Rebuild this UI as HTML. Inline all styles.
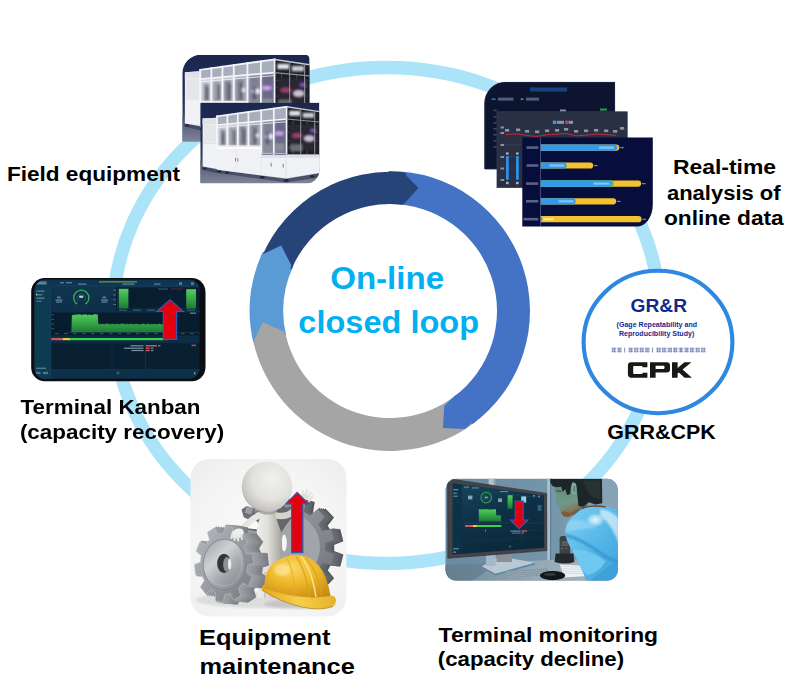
<!DOCTYPE html>
<html><head><meta charset="utf-8"><title>On-line closed loop</title>
<style>
html,body{margin:0;padding:0;background:#fff;}
body{width:800px;height:684px;overflow:hidden;font-family:"Liberation Sans",sans-serif;}
svg{display:block}
text{font-family:"Liberation Sans",sans-serif;font-weight:bold}
.lbl{fill:#000}
</style></head><body>
<svg width="800" height="684" viewBox="0 0 800 684">
<rect width="800" height="684" fill="#ffffff"/>
<defs>
<filter id="soft" x="-5%" y="-5%" width="110%" height="110%"><feGaussianBlur stdDeviation="0.45"/></filter>
<filter id="soft2" x="-5%" y="-5%" width="110%" height="110%"><feGaussianBlur stdDeviation="0.8"/></filter>
</defs>
<ellipse cx="386.4" cy="315.4" rx="273.4" ry="247.9" fill="none" stroke="#ABE4F9" stroke-width="13.3"/>
<g id="ring">
<path d="M476.19,421.32 A140,140 0 0 1 252.57,337.71 L284.97,331.42 A107,107 0 0 0 455.88,395.32 Z" fill="#A5A5A5"/>
<path d="M388.78,171.01 A140,140 0 0 1 472.68,423.97 L453.19,397.34 A107,107 0 0 0 389.07,204.00 Z" fill="#4472C4"/>
<path d="M253.30,342.56 A140.3,140.3 0 0 1 262.85,251.71 L293.30,265.91 A106.7,106.7 0 0 0 286.03,335.00 Z" fill="#5B9BD5"/>
<path d="M261.87,256.61 A139.2,139.2 0 0 1 406.00,172.72 L402.30,204.71 A107,107 0 0 0 291.51,269.19 Z" fill="#264478"/>
<path d="M458.91,393.12 L453,397.6 L444.2,406 L443,428 L465,429 L472.6,422.4 L479.86,418.09 Z" fill="#4472C4"/>
<path d="M255.62,349.53 L253.9,340.9 L262.7,322.2 L283.9,331.4 L286.95,340.55 Z" fill="#A5A5A5"/>
<path d="M258.63,263.19 L261.6,254.8 L281.2,245.6 L291.2,265.1 L289.26,274.34 Z" fill="#5B9BD5"/>
<path d="M394.85,172.08 L403.7,173 L418.5,188.1 L403.5,204.2 L393.74,203.87 Z" fill="#264478"/>
</g>
<g fill="#00B0F0" font-size="31.2"><text transform="translate(330.14,289.0) scale(1.061,1)">On-line</text><text transform="translate(298.36,333.3) scale(1.0421,1)">closed loop</text></g>
<!-- field -->
<defs><linearGradient id="fbg" x1="0" y1="0" x2="0" y2="1"><stop offset="0" stop-color="#1c2750"/><stop offset="0.45" stop-color="#202c55"/><stop offset="0.75" stop-color="#3e4665"/><stop offset="1" stop-color="#5b627d"/></linearGradient><linearGradient id="ffloor" x1="0" y1="0" x2="0" y2="1"><stop offset="0" stop-color="#4a5270"/><stop offset="1" stop-color="#7f8598"/></linearGradient><linearGradient id="fglass" x1="0" y1="0" x2="1" y2="0"><stop offset="0" stop-color="#d5d8e0"/><stop offset="0.55" stop-color="#b9bccb"/><stop offset="1" stop-color="#77749a"/></linearGradient><clipPath id="fclip1"><path d="M17.5,0 H115.2 A4,4 0 0 1 119.2,4 V81 H0 V17.5 A17.5,17.5 0 0 1 17.5,0 Z"/></clipPath><clipPath id="fclip2"><path d="M0,0 H119.2 V67.5 A13.5,13.5 0 0 1 105.7,81 H0 Z"/></clipPath><g id="machine"><rect x="0" y="0" width="119.2" height="81" fill="url(#fbg)"/><path d="M0,58 L119.2,66 V81 H0 Z" fill="url(#ffloor)"/><path d="M2,64 L17,67.5 L86,76.5 L119.2,71 V75 L86,80 L14,70 L2,67 Z" fill="#2b3147" opacity="0.55"/><path d="M2.4,16.2 L16.8,15.4 V66.5 L2.4,64 Z" fill="#f1f2f5"/><path d="M2.4,16.2 L16.8,15.4 V21.5 L2.4,22 Z" fill="#dfe2e8"/><path d="M3.4,22.5 L15.8,22 V40 L3.4,40 Z" fill="#e4e6ea"/><path d="M2.4,41 H16.8" stroke="#c9ccd4" stroke-width="0.5"/><path d="M16.8,14 L86.4,4.3 V16.6 L16.8,22.6 Z" fill="#a9aebb"/><path d="M16.8,22.6 L86.4,16.6 V52 H61 V44.6 H16.8 Z" fill="url(#fglass)"/><g filter="url(#soft2)"><rect x="20" y="27" width="5" height="16" fill="#8e929c"/><rect x="29" y="25" width="7" height="18" fill="#9b9faa"/><rect x="39.5" y="24" width="6" height="19" fill="#80838f"/><rect x="50" y="22" width="8" height="21" fill="#8a8c9a"/><rect x="63" y="20" width="9" height="30" fill="#7f7f96"/><rect x="75" y="19" width="10" height="31" fill="#6a6888"/><ellipse cx="69" cy="34" rx="4" ry="2.6" fill="#f3e8f6"/><ellipse cx="79" cy="31" rx="4.5" ry="2.2" fill="#c9a0e8"/><ellipse cx="57" cy="33" rx="2.5" ry="2" fill="#e8e0f0"/><rect x="64" y="41" width="20" height="8" fill="#8b8d96"/><g fill="#d9762e" opacity="0.7"><rect x="30" y="41" width="2" height="1.6"/><rect x="43" y="41" width="2" height="1.6"/><rect x="55" y="41" width="2" height="1.6"/></g><g fill="#4b4e5a" opacity="0.75"><rect x="22" y="30" width="2.4" height="12"/><rect x="33" y="28" width="2.2" height="14"/><rect x="43" y="27" width="2.4" height="15"/><rect x="53.5" y="26" width="2.4" height="16"/><rect x="66" y="30" width="3" height="12"/></g></g><path d="M86.4,4.3 L119.2,9.2 V53 H86.4 Z" fill="#1d1d26"/><g stroke="#70727c" stroke-width="0.7" opacity="0.8"><path d="M88,24 H118 M88,30 H118 M88,38.5 H118 M88,45 H118 M93,18 V52 M107,19 V52"/></g><g filter="url(#soft2)"><rect x="89" y="22" width="28" height="26" fill="#2a2733"/><ellipse cx="97" cy="33" rx="5" ry="2.5" fill="#b04a7a" opacity="0.8"/><ellipse cx="109" cy="36" rx="5" ry="3" fill="#e9dff3" opacity="0.85"/><ellipse cx="113" cy="28" rx="3" ry="2" fill="#8c5fd0" opacity="0.8"/><rect x="90" y="42" width="12" height="7" fill="#6c6d76"/><rect x="89" y="8.4" width="11" height="5" fill="#eceef2" opacity="0.95"/><rect x="102.5" y="10.4" width="11.5" height="5" fill="#dfe1e6" opacity="0.9"/></g><g stroke="#f4f5f8" stroke-linecap="square" fill="none"><path d="M16.8,14 L86.4,4.3" stroke-width="1.7"/><path d="M16.8,22.6 L86.4,16.6" stroke-width="1.6"/><path d="M16.8,14.00 V44.6" stroke-width="1.7"/><path d="M27.2,12.55 V44.6" stroke-width="1.7"/><path d="M37.6,11.10 V44.6" stroke-width="1.7"/><path d="M48.2,9.62 V44.6" stroke-width="1.7"/><path d="M61,7.84 V52" stroke-width="1.7"/><path d="M73.6,6.08 V52" stroke-width="1.7"/><path d="M86.4,4.3 V53" stroke-width="1.6"/><path d="M16.8,25.2 L86.4,19.4" stroke-width="0.9" opacity="0.85"/><path d="M16.8,43.8 H61" stroke-width="1.2"/><path d="M61,51.3 H86.4" stroke-width="1.2" stroke="#b6bac4"/></g><g stroke="#8e9099" fill="none"><path d="M86.4,4.3 L119.2,9.2" stroke-width="1.4" stroke="#c8cad0"/><path d="M86.4,16.6 L119.2,19.6" stroke-width="1.1"/><path d="M100.5,6.4 V53 M114.5,8.5 V53" stroke-width="1.0"/><path d="M86.4,52.4 H119.2" stroke-width="1.4" stroke="#9a9da6"/></g><path d="M16.8,44.6 H61 V52.6 H119.2 V70.5 L86,76 L16.8,67.4 Z" fill="#f0f1f4"/><path d="M61,52.6 H119.2 V55.5 H61 Z" fill="#dfe1e7"/><path d="M16.8,44.6 H61 V46.6 H16.8 Z" fill="#fafbfc"/><path d="M86,56 V76" stroke="#d4d7de" stroke-width="0.6"/><path d="M36,46 V70 M61,52 V73" stroke="#d9dbe2" stroke-width="0.5"/><g fill="#6d7079"><rect x="35" y="55.5" width="0.8" height="3.4"/><rect x="37.2" y="55.8" width="0.8" height="3.4"/><rect x="70.5" y="60.5" width="0.9" height="3.6"/><rect x="82.5" y="61.5" width="0.9" height="3.6"/></g><g fill="#23252e"><ellipse cx="4.5" cy="66" rx="2" ry="1"/><ellipse cx="19" cy="69.3" rx="2.4" ry="1.1"/><ellipse cx="27" cy="70.3" rx="2" ry="1"/><ellipse cx="62" cy="74.8" rx="2.6" ry="1.2"/><ellipse cx="86" cy="78" rx="2.8" ry="1.4"/><ellipse cx="112" cy="74" rx="2.4" ry="1.2"/></g></g></defs>
<g transform="translate(182.3,54.8) scale(1.068,1.072)" clip-path="url(#fclip1)"><use href="#machine"/></g>
<g transform="translate(200.2,102.4)" clip-path="url(#fclip2)"><use href="#machine"/></g>

<!-- charts -->
<path d="M505.5,82 H615 V169 H484.5 V103 A21,21 0 0 1 505.5,82 Z" fill="#0c1430"/>
<path d="M505.5,82.4 H614.6 V169 H484.9 V103 A20.6,20.6 0 0 1 505.5,82.4 Z" fill="none" stroke="#1b2748" stroke-width="0.8"/>
<g filter="url(#soft)"><rect x="530" y="87.4" width="37" height="4.2" fill="#1f6fc4" opacity="0.5"/><rect x="491.5" y="98.4" width="4.2" height="1.4" rx="0.7" fill="#2f9bf0"/><rect x="498" y="97.6" width="15.5" height="3" fill="#9aa6c0" opacity="0.5"/><rect x="520.5" y="98.5" width="3.2" height="1.2" rx="0.6" fill="#57c24a"/><rect x="526" y="97.6" width="13" height="3" fill="#9aa6c0" opacity="0.5"/><rect x="493.5" y="109.5" width="3.2" height="1.6" fill="#6e7a98" opacity="0.5"/><rect x="493.5" y="116" width="3.2" height="1.6" fill="#6e7a98" opacity="0.5"/><rect x="493.5" y="122" width="3.2" height="1.6" fill="#6e7a98" opacity="0.5"/><rect x="493.5" y="128" width="3.2" height="1.6" fill="#6e7a98" opacity="0.5"/><rect x="493.5" y="134" width="3.2" height="1.6" fill="#6e7a98" opacity="0.5"/><rect x="493.5" y="140" width="3.2" height="1.6" fill="#6e7a98" opacity="0.5"/><rect x="493.5" y="146" width="3.2" height="1.6" fill="#6e7a98" opacity="0.5"/><rect x="600" y="108.5" width="7" height="2.2" fill="#2fae5a" opacity="0.8"/><rect x="560" y="109.5" width="6" height="2.4" fill="#b8c0d4" opacity="0.7"/></g>
<rect x="497" y="111.8" width="130.2" height="75.8" fill="#293044"/>
<rect x="497" y="111.8" width="130.2" height="75.8" fill="none" stroke="#343c52" stroke-width="0.8"/>
<g filter="url(#soft)"><rect x="552.8" y="120.6" width="3.4" height="3.4" fill="#2f9bf0"/><rect x="557" y="120.8" width="7" height="3" fill="#c5cbd9" opacity="0.65"/><rect x="565.5" y="120.6" width="2.2" height="3.4" fill="#e34a4a"/><rect x="568.5" y="120.8" width="4.5" height="3" fill="#c5cbd9" opacity="0.65"/><rect x="500.5" y="126.5" width="3.6" height="2" fill="#aab2c6" opacity="0.75"/><rect x="500.5" y="132" width="3.6" height="2" fill="#aab2c6" opacity="0.75"/><rect x="500.5" y="144" width="3.6" height="2" fill="#aab2c6" opacity="0.75"/><rect x="500.5" y="156" width="3.6" height="2" fill="#aab2c6" opacity="0.75"/><rect x="500.5" y="167.5" width="3.6" height="2" fill="#aab2c6" opacity="0.75"/><rect x="500.5" y="179" width="3.6" height="2" fill="#aab2c6" opacity="0.75"/><rect x="505" y="129" width="4.2" height="2.6" fill="#d4d9e6" opacity="0.6"/><rect x="516" y="128.5" width="4.2" height="2.6" fill="#d4d9e6" opacity="0.6"/><rect x="525" y="130" width="4.2" height="2.6" fill="#d4d9e6" opacity="0.6"/><rect x="535" y="130.5" width="4.2" height="2.6" fill="#d4d9e6" opacity="0.6"/><rect x="545" y="129.5" width="4.2" height="2.6" fill="#d4d9e6" opacity="0.6"/><rect x="555" y="129" width="4.2" height="2.6" fill="#d4d9e6" opacity="0.6"/><rect x="564" y="128" width="4.2" height="2.6" fill="#d4d9e6" opacity="0.6"/><rect x="574" y="130" width="4.2" height="2.6" fill="#d4d9e6" opacity="0.6"/><rect x="584" y="129.5" width="4.2" height="2.6" fill="#d4d9e6" opacity="0.6"/><rect x="594" y="129" width="4.2" height="2.6" fill="#d4d9e6" opacity="0.6"/><rect x="604" y="129.5" width="4.2" height="2.6" fill="#d4d9e6" opacity="0.6"/><rect x="613" y="130" width="4.2" height="2.6" fill="#d4d9e6" opacity="0.6"/><rect x="620" y="127" width="4.2" height="2.6" fill="#d4d9e6" opacity="0.6"/><path d="M506,134.6 L517,133.8 L527,135.6 L537,136.4 L547,134.8 L557,134.2 L566,133.4 L576,135.8 L586,135.2 L596,134 L606,134.6 L616,135.4" fill="none" stroke="#d42a35" stroke-width="0.9"/><path d="M505,144.8 H530 M505,156.5 H522 M505,168 H522" stroke="#4a5269" stroke-width="0.4"/></g>
<rect x="506" y="156" width="2.8" height="24" rx="1.2" fill="#2f8fe6"/><rect x="516" y="156" width="2.8" height="24" rx="1.2" fill="#2f8fe6"/><g fill="#cfd5e2" opacity="0.8" filter="url(#soft)"><rect x="506" y="152.4" width="2.6" height="2.2"/><rect x="516" y="152.4" width="2.6" height="2.2"/><rect x="506" y="181.8" width="2.6" height="2.4"/><rect x="516" y="181.8" width="2.6" height="2.4"/></g>
<path d="M522.3,137.6 H652.8 V204.6 A16,22 0 0 1 636.8,226.6 H522.3 Z" fill="#070e3b"/>
<path d="M540.4,137.6 V226.6" stroke="#7f89ad" stroke-width="0.7" opacity="0.8"/>
<path d="M540.8,144.50 H616.30 A3.1,3.1 0 0 1 616.30,150.70 H540.8 Z" fill="#f6c12f"/><path d="M540.8,144.50 H614.20 A3.1,3.1 0 0 1 614.20,150.70 H540.8 Z" fill="#2e9af2"/><rect x="620.20" y="147.10" width="3.6" height="1.1" fill="#d8b86a" opacity="0.75"/><path d="M540.8,162.40 H590.10 A3.1,3.1 0 0 1 590.10,168.60 H540.8 Z" fill="#f6c12f"/><path d="M540.8,162.40 H563.50 A3.1,3.1 0 0 1 563.50,168.60 H540.8 Z" fill="#2e9af2"/><rect x="594.00" y="165.00" width="3.6" height="1.1" fill="#d8b86a" opacity="0.75"/><path d="M540.8,180.50 H638.10 A3.1,3.1 0 0 1 638.10,186.70 H540.8 Z" fill="#f6c12f"/><path d="M540.8,180.50 H610.90 A3.1,3.1 0 0 1 610.90,186.70 H540.8 Z" fill="#3fd06f"/><path d="M540.8,180.50 H608.50 A3.1,3.1 0 0 1 608.50,186.70 H540.8 Z" fill="#2e9af2"/><rect x="642.00" y="183.10" width="3.6" height="1.1" fill="#d8b86a" opacity="0.75"/><path d="M540.8,198.20 H613.10 A3.1,3.1 0 0 1 613.10,204.40 H540.8 Z" fill="#f6c12f"/><path d="M540.8,198.20 H572.50 A3.1,3.1 0 0 1 572.50,204.40 H540.8 Z" fill="#2e9af2"/><rect x="617.00" y="200.80" width="3.6" height="1.1" fill="#d8b86a" opacity="0.75"/><path d="M540.8,216.10 H638.50 A3.1,3.1 0 0 1 638.50,222.30 H540.8 Z" fill="#f6c12f"/><path d="M540.8,216.10 H539.30 A3.1,3.1 0 0 1 539.30,222.30 H540.8 Z" fill="#2e9af2"/><rect x="642.40" y="218.70" width="3.6" height="1.1" fill="#d8b86a" opacity="0.75"/>
<g filter="url(#soft)" opacity="0.85"><rect x="526.5" y="146.30" width="11.8" height="2.6" fill="#aab3d0" opacity="0.6"/><rect x="526.5" y="164.20" width="11.8" height="2.6" fill="#aab3d0" opacity="0.6"/><rect x="526" y="182.30" width="12.3" height="2.6" fill="#aab3d0" opacity="0.6"/><rect x="526" y="200.00" width="12.3" height="2.6" fill="#aab3d0" opacity="0.6"/><rect x="523.5" y="217.90" width="14.8" height="2.6" fill="#aab3d0" opacity="0.6"/><rect x="599" y="146.5" width="15" height="2.2" fill="#d9ecff" opacity="0.6"/><rect x="549.5" y="164.4" width="15" height="2.2" fill="#d9ecff" opacity="0.6"/><rect x="593.5" y="182.5" width="16" height="2.2" fill="#d9ecff" opacity="0.6"/><rect x="558.5" y="200.2" width="15" height="2.2" fill="#d9ecff" opacity="0.6"/><rect x="543.5" y="218.1" width="10" height="2.2" fill="#fff3c4" opacity="0.8"/></g>

<!-- kanban -->
<rect x="31.2" y="278" width="174.2" height="103.2" rx="13.5" ry="13.5" fill="#0b0d10"/>
<defs><clipPath id="kclip"><rect x="34.4" y="279.8" width="165.6" height="99" rx="10.5" ry="11.5"/></clipPath><linearGradient id="kbg" x1="0" y1="0" x2="0" y2="1"><stop offset="0" stop-color="#103650"/><stop offset="0.55" stop-color="#0c2b44"/><stop offset="1" stop-color="#0d3049"/></linearGradient><linearGradient id="kgreen" x1="0" y1="0" x2="0" y2="1"><stop offset="0" stop-color="#4fd05a"/><stop offset="1" stop-color="#1d7a35"/></linearGradient></defs>
<g clip-path="url(#kclip)"><rect x="31" y="278" width="176" height="104" fill="url(#kbg)"/><rect x="31" y="278" width="19.5" height="104" fill="#0e3a52"/><path d="M50.5,280 V380" stroke="#1a4763" stroke-width="0.5"/><rect x="31" y="278" width="176" height="7.6" fill="#0e3550"/><path d="M50.5,285.8 H206" stroke="#1d4e6b" stroke-width="0.5"/><g filter="url(#soft)"><rect x="36" y="281.4" width="10.5" height="3.2" fill="#8fb4c9" opacity="0.6"/><g fill="#9ebbd0" opacity="0.5"><rect x="60" y="282" width="4" height="1.4"/><rect x="66" y="282" width="6" height="1.4"/><rect x="78" y="283.4" width="8.5" height="1.4"/><rect x="122.5" y="283.4" width="12" height="1.5"/><rect x="154" y="283.4" width="6.5" height="1.4"/><rect x="179" y="282.2" width="3" height="2.8"/><rect x="191" y="282.2" width="3" height="2.8"/></g><rect x="99" y="281.1" width="38" height="1.5" fill="#7fa23a" opacity="0.75"/><g fill="#8fb4c9" opacity="0.5"><rect x="36.5" y="290.4" width="8" height="1.5"/><rect x="36.5" y="294" width="6" height="1.5"/><rect x="36.5" y="297.4" width="8" height="1.5"/><rect x="36.5" y="300.6" width="5" height="1.3"/><rect x="36" y="367.6" width="10" height="1.4"/><rect x="35.5" y="371.8" width="5" height="2.2"/><rect x="43" y="371.8" width="5" height="2.2"/></g><rect x="36" y="293.6" width="1.2" height="1.8" fill="#9bd13a"/><g fill="#a9c6d8" opacity="0.55"><rect x="57" y="296.6" width="3.6" height="1.6"/><rect x="55.5" y="299.4" width="7" height="1.3"/><rect x="56" y="301.4" width="6" height="1.2"/><rect x="102.4" y="296.6" width="3.6" height="1.6"/><rect x="101" y="299.4" width="7" height="1.3"/><rect x="101.5" y="301.4" width="6" height="1.2"/></g></g><path d="M76.2,303.4 A7.6,7.6 0 1 1 86.4,303.4" fill="none" stroke="#35b25a" stroke-width="1.3" stroke-linecap="round"/><path d="M78.0,300.8 A4.2,4.2 0 1 1 84.6,300.8" fill="none" stroke="#2a6a5e" stroke-width="0.7"/><rect x="79.2" y="295.6" width="4" height="2.3" fill="#d5e6ee" opacity="0.85" filter="url(#soft)"/><g fill="#b07f3a"><circle cx="76.6" cy="303.6" r="0.8"/><circle cx="86" cy="303.6" r="0.8"/></g><rect x="116" y="287.4" width="88" height="23" fill="#071e2e" opacity="0.95"/><path d="M117.5,288.4 V308.8 H204" fill="none" stroke="#2b5470" stroke-width="0.4"/><g fill="#6f93aa" opacity="0.6" filter="url(#soft)"><rect x="113" y="289.6" width="3" height="1"/><rect x="113" y="294.4" width="3" height="1"/><rect x="113" y="299.2" width="3" height="1"/><rect x="113" y="304" width="3" height="1"/><rect x="119" y="309.6" width="8" height="1"/><rect x="133" y="309.6" width="8" height="1"/><rect x="147" y="309.6" width="8" height="1"/><rect x="187" y="309.6" width="8" height="1"/><rect x="158" y="288.6" width="10" height="0.9"/></g><path d="M171,288.9 H183" stroke="#b4483f" stroke-width="0.5" opacity="0.8"/><rect x="118.8" y="288.8" width="9.6" height="19.6" fill="url(#kgreen)"/><rect x="186.2" y="289.2" width="9.8" height="19.4" fill="url(#kgreen)"/><rect x="51.5" y="312.6" width="153" height="22.6" fill="#071c2c" opacity="0.95"/><path d="M66,332.4 H203" stroke="#2b5470" stroke-width="0.4"/><g fill="#6f93aa" opacity="0.55" filter="url(#soft)"><rect x="51.5" y="314.4" width="2.5" height="0.9"/><rect x="51.5" y="319" width="2.5" height="0.9"/><rect x="51.5" y="323.6" width="2.5" height="0.9"/><rect x="51.5" y="328.2" width="2.5" height="0.9"/><rect x="55" y="333.2" width="3.5" height="0.9"/><rect x="64" y="333.2" width="3.5" height="0.9"/><rect x="73" y="333.2" width="3.5" height="0.9"/><rect x="82" y="333.2" width="3.5" height="0.9"/><rect x="91" y="333.2" width="3.5" height="0.9"/><rect x="100" y="333.2" width="3.5" height="0.9"/><rect x="109" y="333.2" width="3.5" height="0.9"/><rect x="118" y="333.2" width="3.5" height="0.9"/><rect x="127" y="333.2" width="3.5" height="0.9"/><rect x="136" y="333.2" width="3.5" height="0.9"/><rect x="145" y="333.2" width="3.5" height="0.9"/><rect x="154" y="333.2" width="3.5" height="0.9"/><rect x="163" y="333.2" width="3.5" height="0.9"/><rect x="172" y="333.2" width="3.5" height="0.9"/><rect x="181" y="333.2" width="3.5" height="0.9"/><rect x="190" y="333.2" width="3.5" height="0.9"/><rect x="199" y="333.2" width="3.5" height="0.9"/><rect x="190" y="312.6" width="6" height="1.2" fill="#c8dbe6"/></g><path d="M70.80,332.20 L70.80,331.66 L71.35,331.81 L71.90,314.98 L72.45,315.18 L73.00,314.91 L73.55,315.15 L74.10,313.99 L74.65,314.56 L75.20,315.18 L75.75,314.79 L76.30,315.12 L76.85,314.10 L77.40,314.56 L77.95,314.27 L78.50,314.66 L79.05,314.70 L79.60,313.97 L80.15,314.23 L80.70,314.31 L81.25,315.14 L81.80,314.95 L82.35,314.16 L82.90,314.99 L83.45,314.13 L84.00,314.75 L84.55,314.11 L85.10,313.95 L85.65,315.08 L86.20,314.22 L86.75,314.23 L87.30,315.23 L87.85,315.08 L88.40,314.33 L88.95,315.20 L89.50,314.65 L90.05,314.83 L90.60,314.22 L91.15,315.17 L91.70,314.85 L92.25,315.21 L92.80,315.11 L93.35,314.34 L93.90,314.42 L94.45,314.17 L95.00,314.14 L95.55,314.03 L96.10,314.34 L96.65,314.73 L97.20,313.95 L97.75,314.83 L98.30,323.79 L98.85,323.75 L99.40,324.41 L99.95,323.97 L100.50,323.76 L101.05,323.98 L101.60,324.27 L102.15,323.42 L102.70,324.62 L103.25,323.38 L103.80,324.32 L104.35,324.45 L104.90,323.37 L105.45,324.37 L106.00,323.83 L106.55,324.10 L107.10,323.36 L107.65,323.41 L108.20,323.59 L108.75,324.59 L109.30,323.61 L109.85,324.33 L110.40,324.56 L110.95,324.57 L111.50,323.80 L112.05,323.81 L112.60,324.03 L113.15,324.36 L113.70,323.49 L114.25,324.32 L114.80,324.39 L115.35,324.47 L115.90,323.40 L116.45,324.58 L117.00,323.47 L117.55,323.79 L118.10,324.14 L118.65,324.54 L119.20,323.79 L119.75,324.55 L120.30,324.06 L120.85,323.76 L121.40,323.76 L121.95,323.58 L122.50,323.45 L123.05,323.54 L123.60,324.25 L124.15,324.65 L124.70,323.56 L125.25,323.41 L125.80,324.63 L126.35,324.04 L126.90,323.88 L127.45,323.66 L128.00,324.12 L128.55,324.42 L129.10,323.94 L129.65,323.90 L130.20,323.42 L130.75,324.54 L131.30,323.39 L131.85,323.99 L132.40,324.44 L132.95,323.52 L133.50,324.30 L134.05,324.58 L134.60,324.17 L135.15,324.37 L135.70,323.49 L136.25,323.91 L136.80,323.54 L137.35,324.45 L137.90,323.73 L138.45,323.94 L139.00,324.65 L139.55,324.46 L140.10,324.62 L140.65,323.94 L141.20,323.98 L141.75,324.30 L142.30,323.97 L142.85,323.73 L143.40,323.87 L143.95,323.54 L144.50,323.84 L145.05,324.63 L145.60,324.60 L146.15,324.17 L146.70,324.00 L147.25,323.79 L147.80,323.47 L148.35,323.70 L148.90,324.37 L149.45,324.48 L150.00,323.82 L150.55,324.37 L151.10,324.36 L151.65,324.25 L152.20,324.21 L152.75,324.34 L153.30,323.82 L153.85,324.27 L154.40,323.72 L154.95,323.98 L155.50,324.35 L156.05,324.25 L156.60,323.73 L157.15,324.58 L157.70,324.19 L158.25,324.10 L158.80,323.37 L159.35,324.06 L159.90,323.68 L160.45,324.22 L161.00,323.95 L161.55,324.41 L162.10,324.19 L162.65,324.39 L163.20,323.80 L163.75,324.19 L164.30,324.31 L164.85,324.43 L165.20,332.20 Z" fill="url(#kgreen)"/><rect x="51.2" y="338.0" width="11.4" height="2.2" fill="#d9545a"/><rect x="62.6" y="338.0" width="7.6" height="2.2" fill="#e8d22e"/><rect x="70.2" y="338.0" width="94" height="2.2" fill="#3dd04a"/><rect x="164.2" y="338.0" width="4" height="2.2" fill="#2e7f8f"/><rect x="51.5" y="343.4" width="153" height="26" fill="#081f30" opacity="0.9"/><path d="M112,344 V369 M145.5,344 V369" stroke="#1b4560" stroke-width="0.4"/><g filter="url(#soft)"><g fill="#a9c6d8" opacity="0.7"><rect x="130.5" y="345.2" width="13" height="1.2"/><rect x="124" y="347.6" width="19.5" height="1.2"/><rect x="131.5" y="349.9" width="12" height="1.2"/><rect x="158" y="345.2" width="2.4" height="1.2"/><rect x="151" y="347.6" width="2.4" height="1.2"/><rect x="151" y="349.9" width="2.4" height="1.2"/></g><rect x="145.8" y="345" width="11.2" height="1.5" fill="#d9545a"/><rect x="145.8" y="347.5" width="4" height="1.4" fill="#d9545a"/><rect x="145.8" y="349.8" width="4" height="1.4" fill="#d9545a"/><rect x="191.5" y="344.6" width="4.4" height="1.6" fill="#c95a7a" opacity="0.8"/><circle cx="118" cy="373" r="1.2" fill="none" stroke="#7fa5ba" stroke-width="0.4"/><rect x="194" y="372" width="1.4" height="2.4" fill="#a9c6d8" opacity="0.7"/></g><path d="M31,369.8 H206" stroke="#18445f" stroke-width="0.5"/></g>
<rect x="199.6" y="292" width="5.6" height="75" fill="#0b0d10"/><path d="M170.00,299.80 L183.30,311.40 L176.60,311.40 L176.60,339.40 L163.40,339.40 L163.40,311.40 L156.70,311.40 Z" fill="#e3000f" stroke="#3059b4" stroke-width="1.2" stroke-linejoin="miter"/>

<!-- maint -->
<defs>
<clipPath id="mclip"><rect x="190.4" y="459" width="156" height="157.4" rx="19" ry="19"/></clipPath>
<radialGradient id="mbg" cx="0.5" cy="0.55" r="0.7"><stop offset="0" stop-color="#fbfbfb"/><stop offset="0.7" stop-color="#f4f4f4"/><stop offset="1" stop-color="#ededed"/></radialGradient>
<radialGradient id="mhead" cx="0.6" cy="0.36" r="0.72"><stop offset="0" stop-color="#f1f1ef"/><stop offset="0.55" stop-color="#e2e1de"/><stop offset="0.85" stop-color="#c6c5c1"/><stop offset="1" stop-color="#a3a29f"/></radialGradient>
<linearGradient id="mbody" x1="0" y1="0" x2="1" y2="0"><stop offset="0" stop-color="#f0efeb"/><stop offset="0.45" stop-color="#e0deda"/><stop offset="1" stop-color="#a5a29c"/></linearGradient>
<linearGradient id="mgearF" x1="0" y1="0" x2="1" y2="1"><stop offset="0" stop-color="#b6b9bd"/><stop offset="0.5" stop-color="#999ca1"/><stop offset="1" stop-color="#74777c"/></linearGradient>
<linearGradient id="mgearD" x1="0.1" y1="0" x2="0.9" y2="1"><stop offset="0" stop-color="#9da0a5"/><stop offset="0.35" stop-color="#d0d2d5"/><stop offset="0.6" stop-color="#a8abb0"/><stop offset="1" stop-color="#808388"/></linearGradient>
<linearGradient id="mgearB" x1="0" y1="0" x2="1" y2="1"><stop offset="0" stop-color="#a6a9ad"/><stop offset="0.6" stop-color="#85888d"/><stop offset="1" stop-color="#6d7075"/></linearGradient>
<radialGradient id="mhat" cx="0.42" cy="0.3" r="0.8"><stop offset="0" stop-color="#fad763"/><stop offset="0.45" stop-color="#f0b92b"/><stop offset="1" stop-color="#c98a14"/></radialGradient>
<linearGradient id="mbrim" x1="0" y1="0" x2="1" y2="0"><stop offset="0" stop-color="#e0a820"/><stop offset="0.5" stop-color="#f6cf4a"/><stop offset="1" stop-color="#e6b12a"/></linearGradient>
</defs>
<g clip-path="url(#mclip)"><rect x="190" y="458" width="158" height="160" fill="url(#mbg)"/><ellipse cx="262" cy="600" rx="66" ry="8" fill="#c9c9c9" opacity="0.55" filter="url(#soft2)"/><path d="M325.18,547.70 L325.02,550.70 L334.09,554.19 L331.48,564.60 L321.99,562.83 L320.01,566.85 L318.45,569.37 L324.67,577.21 L317.52,584.84 L310.13,578.25 L306.52,580.69 L304.00,582.04 L305.69,592.13 L295.92,594.94 L292.61,585.31 L288.34,585.49 L285.52,585.32 L282.24,594.96 L272.46,592.20 L274.12,582.10 L270.34,579.99 L267.97,578.33 L260.61,584.94 L253.43,577.34 L259.62,569.48 L257.33,565.64 L256.06,562.95 L246.58,564.76 L243.94,554.36 L252.99,550.84 L252.82,546.30 L252.98,543.30 L243.91,539.81 L246.52,529.40 L256.01,531.17 L257.99,527.15 L259.55,524.63 L253.33,516.79 L260.48,509.16 L267.87,515.75 L271.48,513.31 L274.00,511.96 L272.31,501.87 L282.08,499.06 L285.39,508.69 L289.66,508.51 L292.48,508.68 L295.76,499.04 L305.54,501.80 L303.88,511.90 L307.66,514.01 L310.03,515.67 L317.39,509.06 L324.57,516.66 L318.38,524.52 L320.67,528.36 L321.94,531.05 L331.42,529.24 L334.06,539.64 L325.01,543.16 Z" fill="#55585d" stroke="#55585d" stroke-width="2.2" transform="translate(8,0.96)"/><path d="M325.18,547.70 L325.02,550.70 L334.09,554.19 L331.48,564.60 L321.99,562.83 L320.01,566.85 L318.45,569.37 L324.67,577.21 L317.52,584.84 L310.13,578.25 L306.52,580.69 L304.00,582.04 L305.69,592.13 L295.92,594.94 L292.61,585.31 L288.34,585.49 L285.52,585.32 L282.24,594.96 L272.46,592.20 L274.12,582.10 L270.34,579.99 L267.97,578.33 L260.61,584.94 L253.43,577.34 L259.62,569.48 L257.33,565.64 L256.06,562.95 L246.58,564.76 L243.94,554.36 L252.99,550.84 L252.82,546.30 L252.98,543.30 L243.91,539.81 L246.52,529.40 L256.01,531.17 L257.99,527.15 L259.55,524.63 L253.33,516.79 L260.48,509.16 L267.87,515.75 L271.48,513.31 L274.00,511.96 L272.31,501.87 L282.08,499.06 L285.39,508.69 L289.66,508.51 L292.48,508.68 L295.76,499.04 L305.54,501.80 L303.88,511.90 L307.66,514.01 L310.03,515.67 L317.39,509.06 L324.57,516.66 L318.38,524.52 L320.67,528.36 L321.94,531.05 L331.42,529.24 L334.06,539.64 L325.01,543.16 Z" fill="#5e6166" stroke="#5e6166" stroke-width="2.2" transform="translate(6,0.72)"/><path d="M325.18,547.70 L325.02,550.70 L334.09,554.19 L331.48,564.60 L321.99,562.83 L320.01,566.85 L318.45,569.37 L324.67,577.21 L317.52,584.84 L310.13,578.25 L306.52,580.69 L304.00,582.04 L305.69,592.13 L295.92,594.94 L292.61,585.31 L288.34,585.49 L285.52,585.32 L282.24,594.96 L272.46,592.20 L274.12,582.10 L270.34,579.99 L267.97,578.33 L260.61,584.94 L253.43,577.34 L259.62,569.48 L257.33,565.64 L256.06,562.95 L246.58,564.76 L243.94,554.36 L252.99,550.84 L252.82,546.30 L252.98,543.30 L243.91,539.81 L246.52,529.40 L256.01,531.17 L257.99,527.15 L259.55,524.63 L253.33,516.79 L260.48,509.16 L267.87,515.75 L271.48,513.31 L274.00,511.96 L272.31,501.87 L282.08,499.06 L285.39,508.69 L289.66,508.51 L292.48,508.68 L295.76,499.04 L305.54,501.80 L303.88,511.90 L307.66,514.01 L310.03,515.67 L317.39,509.06 L324.57,516.66 L318.38,524.52 L320.67,528.36 L321.94,531.05 L331.42,529.24 L334.06,539.64 L325.01,543.16 Z" fill="#63666b" stroke="#63666b" stroke-width="2.2" transform="translate(4,0.48)"/><path d="M325.18,547.70 L325.02,550.70 L334.09,554.19 L331.48,564.60 L321.99,562.83 L320.01,566.85 L318.45,569.37 L324.67,577.21 L317.52,584.84 L310.13,578.25 L306.52,580.69 L304.00,582.04 L305.69,592.13 L295.92,594.94 L292.61,585.31 L288.34,585.49 L285.52,585.32 L282.24,594.96 L272.46,592.20 L274.12,582.10 L270.34,579.99 L267.97,578.33 L260.61,584.94 L253.43,577.34 L259.62,569.48 L257.33,565.64 L256.06,562.95 L246.58,564.76 L243.94,554.36 L252.99,550.84 L252.82,546.30 L252.98,543.30 L243.91,539.81 L246.52,529.40 L256.01,531.17 L257.99,527.15 L259.55,524.63 L253.33,516.79 L260.48,509.16 L267.87,515.75 L271.48,513.31 L274.00,511.96 L272.31,501.87 L282.08,499.06 L285.39,508.69 L289.66,508.51 L292.48,508.68 L295.76,499.04 L305.54,501.80 L303.88,511.90 L307.66,514.01 L310.03,515.67 L317.39,509.06 L324.57,516.66 L318.38,524.52 L320.67,528.36 L321.94,531.05 L331.42,529.24 L334.06,539.64 L325.01,543.16 Z" fill="#686b70" stroke="#686b70" stroke-width="2.2" transform="translate(2,0.24)"/><path d="M325.18,547.70 L325.02,550.70 L334.09,554.19 L331.48,564.60 L321.99,562.83 L320.01,566.85 L318.45,569.37 L324.67,577.21 L317.52,584.84 L310.13,578.25 L306.52,580.69 L304.00,582.04 L305.69,592.13 L295.92,594.94 L292.61,585.31 L288.34,585.49 L285.52,585.32 L282.24,594.96 L272.46,592.20 L274.12,582.10 L270.34,579.99 L267.97,578.33 L260.61,584.94 L253.43,577.34 L259.62,569.48 L257.33,565.64 L256.06,562.95 L246.58,564.76 L243.94,554.36 L252.99,550.84 L252.82,546.30 L252.98,543.30 L243.91,539.81 L246.52,529.40 L256.01,531.17 L257.99,527.15 L259.55,524.63 L253.33,516.79 L260.48,509.16 L267.87,515.75 L271.48,513.31 L274.00,511.96 L272.31,501.87 L282.08,499.06 L285.39,508.69 L289.66,508.51 L292.48,508.68 L295.76,499.04 L305.54,501.80 L303.88,511.90 L307.66,514.01 L310.03,515.67 L317.39,509.06 L324.57,516.66 L318.38,524.52 L320.67,528.36 L321.94,531.05 L331.42,529.24 L334.06,539.64 L325.01,543.16 Z" fill="url(#mgearB)"/><ellipse cx="289" cy="547" rx="31" ry="33" fill="#a4a7ac" opacity="0.9"/><ellipse cx="284.2" cy="543" rx="2.6" ry="8.4" fill="#f4f5f6"/><path d="M241.58,509.47 L246.67,505.96 L253.16,508.07 L254.91,504.56 L261.23,510.18 L260.88,522.11 L249.65,520.00 L243.68,517.19 Z" fill="#6c6f74"/><path d="M246.67,505.96 L253.16,508.07 L251.05,514.39 L244.74,512.63 Z" fill="#9b9ea3"/><path d="M254.91,504.56 L261.23,510.18 L259.82,515.96 L253.86,511.58 Z" fill="#85888d"/><path d="M275.96,506.32 L282.63,501.05 L291.75,499.65 L291.75,517.72 L285.26,525.96 L281.23,532.63 L277.02,522.11 Z" fill="#64676c"/><path d="M282.63,501.05 L291.75,499.65 L291.75,506.32 L285.79,508.07 Z" fill="#8d9095"/><path d="M275,515 Q287,519 297,508 Q302,501 304.5,496.5" fill="none" stroke="#d6d4cf" stroke-width="6.4" stroke-linecap="round"/><path d="M302,498 L303,491 M305,498 L307,490.4 M307.5,499 L310.6,492.4 M309,501 L312.6,496" stroke="#e4e3df" stroke-width="2.2" stroke-linecap="round"/><path d="M261.6,512 Q268,508.6 274.4,512 Q277,521 281,532 Q283.6,546 280,562 Q278,585 275,598 H257.5 Q258.5,575 257.5,556 Q255.4,540 257,530 Q259,520 261.6,512 Z" fill="url(#mbody)"/><path d="M265,572 V598" stroke="#aaa7a1" stroke-width="0.8"/><path d="M260,515 Q250,519 241,531" fill="none" stroke="#e6e5e1" stroke-width="6.2" stroke-linecap="round"/><ellipse cx="268" cy="511.6" rx="9" ry="3" fill="#9e9b95" opacity="0.8"/><circle cx="267" cy="486.8" r="25.2" fill="url(#mhead)"/><path d="M245.34,550.89 L246.23,553.65 L252.42,553.31 L253.60,563.37 L247.61,565.41 L247.24,569.59 L246.70,572.49 L251.86,576.91 L248.23,585.94 L242.46,583.05 L240.26,586.14 L238.50,588.09 L240.66,595.58 L233.61,600.13 L230.25,593.41 L227.06,594.24 L224.76,594.48 L223.09,602.18 L215.32,600.52 L215.66,592.54 L212.70,590.79 L210.73,589.24 L205.87,594.20 L200.34,586.96 L204.25,580.76 L202.66,577.11 L201.77,574.35 L195.58,574.69 L194.40,564.63 L200.39,562.59 L200.76,558.41 L201.30,555.51 L196.14,551.09 L199.77,542.06 L205.54,544.95 L207.74,541.86 L209.50,539.91 L207.34,532.42 L214.39,527.87 L217.75,534.59 L220.94,533.76 L223.24,533.52 L224.91,525.82 L232.68,527.48 L232.34,535.46 L235.30,537.21 L237.27,538.76 L242.13,533.80 L247.66,541.04 L243.75,547.24 Z" fill="#7b7e83" stroke="#7b7e83" stroke-width="2.6" transform="translate(14,1.12)"/><path d="M245.34,550.89 L246.23,553.65 L252.42,553.31 L253.60,563.37 L247.61,565.41 L247.24,569.59 L246.70,572.49 L251.86,576.91 L248.23,585.94 L242.46,583.05 L240.26,586.14 L238.50,588.09 L240.66,595.58 L233.61,600.13 L230.25,593.41 L227.06,594.24 L224.76,594.48 L223.09,602.18 L215.32,600.52 L215.66,592.54 L212.70,590.79 L210.73,589.24 L205.87,594.20 L200.34,586.96 L204.25,580.76 L202.66,577.11 L201.77,574.35 L195.58,574.69 L194.40,564.63 L200.39,562.59 L200.76,558.41 L201.30,555.51 L196.14,551.09 L199.77,542.06 L205.54,544.95 L207.74,541.86 L209.50,539.91 L207.34,532.42 L214.39,527.87 L217.75,534.59 L220.94,533.76 L223.24,533.52 L224.91,525.82 L232.68,527.48 L232.34,535.46 L235.30,537.21 L237.27,538.76 L242.13,533.80 L247.66,541.04 L243.75,547.24 Z" fill="#82858a" stroke="#82858a" stroke-width="2.6" transform="translate(11.5,0.92)"/><path d="M245.34,550.89 L246.23,553.65 L252.42,553.31 L253.60,563.37 L247.61,565.41 L247.24,569.59 L246.70,572.49 L251.86,576.91 L248.23,585.94 L242.46,583.05 L240.26,586.14 L238.50,588.09 L240.66,595.58 L233.61,600.13 L230.25,593.41 L227.06,594.24 L224.76,594.48 L223.09,602.18 L215.32,600.52 L215.66,592.54 L212.70,590.79 L210.73,589.24 L205.87,594.20 L200.34,586.96 L204.25,580.76 L202.66,577.11 L201.77,574.35 L195.58,574.69 L194.40,564.63 L200.39,562.59 L200.76,558.41 L201.30,555.51 L196.14,551.09 L199.77,542.06 L205.54,544.95 L207.74,541.86 L209.50,539.91 L207.34,532.42 L214.39,527.87 L217.75,534.59 L220.94,533.76 L223.24,533.52 L224.91,525.82 L232.68,527.48 L232.34,535.46 L235.30,537.21 L237.27,538.76 L242.13,533.80 L247.66,541.04 L243.75,547.24 Z" fill="#898c91" stroke="#898c91" stroke-width="2.6" transform="translate(9,0.72)"/><path d="M245.34,550.89 L246.23,553.65 L252.42,553.31 L253.60,563.37 L247.61,565.41 L247.24,569.59 L246.70,572.49 L251.86,576.91 L248.23,585.94 L242.46,583.05 L240.26,586.14 L238.50,588.09 L240.66,595.58 L233.61,600.13 L230.25,593.41 L227.06,594.24 L224.76,594.48 L223.09,602.18 L215.32,600.52 L215.66,592.54 L212.70,590.79 L210.73,589.24 L205.87,594.20 L200.34,586.96 L204.25,580.76 L202.66,577.11 L201.77,574.35 L195.58,574.69 L194.40,564.63 L200.39,562.59 L200.76,558.41 L201.30,555.51 L196.14,551.09 L199.77,542.06 L205.54,544.95 L207.74,541.86 L209.50,539.91 L207.34,532.42 L214.39,527.87 L217.75,534.59 L220.94,533.76 L223.24,533.52 L224.91,525.82 L232.68,527.48 L232.34,535.46 L235.30,537.21 L237.27,538.76 L242.13,533.80 L247.66,541.04 L243.75,547.24 Z" fill="#909398" stroke="#909398" stroke-width="2.6" transform="translate(6.5,0.52)"/><path d="M245.34,550.89 L246.23,553.65 L252.42,553.31 L253.60,563.37 L247.61,565.41 L247.24,569.59 L246.70,572.49 L251.86,576.91 L248.23,585.94 L242.46,583.05 L240.26,586.14 L238.50,588.09 L240.66,595.58 L233.61,600.13 L230.25,593.41 L227.06,594.24 L224.76,594.48 L223.09,602.18 L215.32,600.52 L215.66,592.54 L212.70,590.79 L210.73,589.24 L205.87,594.20 L200.34,586.96 L204.25,580.76 L202.66,577.11 L201.77,574.35 L195.58,574.69 L194.40,564.63 L200.39,562.59 L200.76,558.41 L201.30,555.51 L196.14,551.09 L199.77,542.06 L205.54,544.95 L207.74,541.86 L209.50,539.91 L207.34,532.42 L214.39,527.87 L217.75,534.59 L220.94,533.76 L223.24,533.52 L224.91,525.82 L232.68,527.48 L232.34,535.46 L235.30,537.21 L237.27,538.76 L242.13,533.80 L247.66,541.04 L243.75,547.24 Z" fill="#96999e" stroke="#96999e" stroke-width="2.6" transform="translate(4,0.32)"/><path d="M245.34,550.89 L246.23,553.65 L252.42,553.31 L253.60,563.37 L247.61,565.41 L247.24,569.59 L246.70,572.49 L251.86,576.91 L248.23,585.94 L242.46,583.05 L240.26,586.14 L238.50,588.09 L240.66,595.58 L233.61,600.13 L230.25,593.41 L227.06,594.24 L224.76,594.48 L223.09,602.18 L215.32,600.52 L215.66,592.54 L212.70,590.79 L210.73,589.24 L205.87,594.20 L200.34,586.96 L204.25,580.76 L202.66,577.11 L201.77,574.35 L195.58,574.69 L194.40,564.63 L200.39,562.59 L200.76,558.41 L201.30,555.51 L196.14,551.09 L199.77,542.06 L205.54,544.95 L207.74,541.86 L209.50,539.91 L207.34,532.42 L214.39,527.87 L217.75,534.59 L220.94,533.76 L223.24,533.52 L224.91,525.82 L232.68,527.48 L232.34,535.46 L235.30,537.21 L237.27,538.76 L242.13,533.80 L247.66,541.04 L243.75,547.24 Z" fill="#9a9da2" stroke="#9a9da2" stroke-width="2.6" transform="translate(2,0.16)"/><path d="M245.34,550.89 L246.23,553.65 L252.42,553.31 L253.60,563.37 L247.61,565.41 L247.24,569.59 L246.70,572.49 L251.86,576.91 L248.23,585.94 L242.46,583.05 L240.26,586.14 L238.50,588.09 L240.66,595.58 L233.61,600.13 L230.25,593.41 L227.06,594.24 L224.76,594.48 L223.09,602.18 L215.32,600.52 L215.66,592.54 L212.70,590.79 L210.73,589.24 L205.87,594.20 L200.34,586.96 L204.25,580.76 L202.66,577.11 L201.77,574.35 L195.58,574.69 L194.40,564.63 L200.39,562.59 L200.76,558.41 L201.30,555.51 L196.14,551.09 L199.77,542.06 L205.54,544.95 L207.74,541.86 L209.50,539.91 L207.34,532.42 L214.39,527.87 L217.75,534.59 L220.94,533.76 L223.24,533.52 L224.91,525.82 L232.68,527.48 L232.34,535.46 L235.30,537.21 L237.27,538.76 L242.13,533.80 L247.66,541.04 L243.75,547.24 Z" fill="url(#mgearF)" stroke="#c3c6ca" stroke-width="0.5"/><ellipse cx="224.2" cy="564.4" rx="21" ry="25.2" fill="url(#mgearD)" stroke="#7f8287" stroke-width="0.8"/><ellipse cx="224.2" cy="564.4" rx="17.5" ry="21.4" fill="none" stroke="#c9ccd0" stroke-width="0.5" opacity="0.8"/><ellipse cx="224" cy="563.4" rx="6.8" ry="9.6" fill="#33353a"/><ellipse cx="226.8" cy="564.4" rx="3.6" ry="7.4" fill="#8d9095"/><ellipse cx="229.6" cy="564" rx="1.6" ry="5.6" fill="#eceded"/><ellipse cx="237.5" cy="533.5" rx="6.6" ry="4.6" fill="#efeeea" transform="rotate(-25 237.5 533.5)"/><path d="M232.5,534 l-1.2,4 M235,535.5 l-0.6,4.4 M238,536 l0.2,4.4 M241,535 l1,4" stroke="#e6e5e1" stroke-width="2" stroke-linecap="round"/><ellipse cx="300" cy="604" rx="36" ry="5" fill="#b8b8b8" opacity="0.6" filter="url(#soft2)"/><path d="M261.5,590 Q262,582 272,584 Q300,592 334,596 Q338.5,601 333,606.5 Q318,611 300,606 Q276,600 261.5,590 Z" fill="url(#mbrim)"/><path d="M262,590 Q280,602 302,607 Q320,611 333,606.5" fill="none" stroke="#b98413" stroke-width="1" opacity="0.8"/><path d="M264.6,588.5 Q262.5,562 290,555.4 Q323,550.5 330.6,596 Q300,601 264.6,588.5 Z" fill="url(#mhat)"/><path d="M296,556.5 Q306,570 309,597" fill="none" stroke="#d9a21c" stroke-width="1.6" opacity="0.8"/><path d="M301,556.5 Q312,570 316,597" fill="none" stroke="#fbe68f" stroke-width="1.6" opacity="0.9"/><path d="M306,558 Q318,572 322,596.5" fill="none" stroke="#d9a21c" stroke-width="1.4" opacity="0.8"/><path d="M287,558 Q294,572 296,597" fill="none" stroke="#e2ac22" stroke-width="1.3" opacity="0.7"/><ellipse cx="282" cy="570" rx="8" ry="6" fill="#fdf0b0" opacity="0.55" filter="url(#soft2)"/></g>
<path d="M297.20,492.40 L308.60,503.80 L302.80,503.80 L302.80,552.60 L291.60,552.60 L291.60,503.80 L285.80,503.80 Z" fill="#e3000f" stroke="#3059b4" stroke-width="1.2" stroke-linejoin="miter"/>

<!-- monitor -->
<defs>
<clipPath id="tclip"><rect x="445.5" y="478.8" width="172.4" height="101.8" rx="10.5" ry="10.5"/></clipPath>
<clipPath id="tscr"><path d="M452.6,483 L544,495.4 L544.2,547.8 L452.6,554.6 Z"/></clipPath>
<linearGradient id="twall" x1="0" y1="0" x2="1" y2="0"><stop offset="0" stop-color="#6a8aa1"/><stop offset="0.6" stop-color="#7595ab"/><stop offset="1" stop-color="#86a3b6"/></linearGradient>
<linearGradient id="tdesk" x1="0" y1="0" x2="1" y2="0"><stop offset="0" stop-color="#6f8797"/><stop offset="0.5" stop-color="#93a7b4"/><stop offset="1" stop-color="#a9b8c2"/></linearGradient>
<linearGradient id="tscrbg" x1="0" y1="0" x2="0.5" y2="1"><stop offset="0" stop-color="#15465c"/><stop offset="0.55" stop-color="#0e3045"/><stop offset="1" stop-color="#0c293c"/></linearGradient>
<linearGradient id="tbody" x1="0" y1="0" x2="1" y2="1"><stop offset="0" stop-color="#7fd0f2"/><stop offset="0.5" stop-color="#58b9ea"/><stop offset="1" stop-color="#3d9fd6"/></linearGradient>
<radialGradient id="tshoulder" cx="0.5" cy="0.5" r="0.5"><stop offset="0" stop-color="#e6f5fb"/><stop offset="0.6" stop-color="#b5e2f5" stop-opacity="0.8"/><stop offset="1" stop-color="#7fd0f2" stop-opacity="0"/></radialGradient>
<linearGradient id="tface" x1="0" y1="0" x2="0.3" y2="1"><stop offset="0" stop-color="#5f8a7c"/><stop offset="0.7" stop-color="#6f9887"/><stop offset="1" stop-color="#8a6a48"/></linearGradient>
<linearGradient id="tgreen" x1="0" y1="0" x2="0" y2="1"><stop offset="0" stop-color="#4fd05a"/><stop offset="1" stop-color="#1d7a35"/></linearGradient>
</defs>
<g clip-path="url(#tclip)"><rect x="445" y="478" width="174" height="104" fill="url(#twall)"/><rect x="488.6" y="478" width="6.6" height="90" fill="#b3c2cd"/><rect x="493.4" y="478" width="1.8" height="90" fill="#8ea6b6"/><rect x="547.2" y="478" width="2.8" height="86" fill="#a9bdca"/><rect x="550" y="478" width="1.2" height="86" fill="#5f7f95"/><path d="M445,565 L560,559.5 L619,559.5 V582 H445 Z" fill="url(#tdesk)"/><path d="M445,565 L500,562.4 L470,582 H445 Z" fill="#627c8d" opacity="0.7"/><path d="M481.7,566.4 L495,558.6 L511.8,558.6 L535,562.8 L495.4,573.8 Z" fill="#b9c8d2"/><path d="M481.7,566.4 L495.4,573.8 L535,562.8 L535,564.4 L495.4,575.6 L481.7,568 Z" fill="#5d8aa8"/><path d="M486,550 H495.6 V566 H486 Z" fill="#a3b8c6"/><path d="M496.6,552 H511.8 V562 H496.6 Z" fill="#878f97"/><path d="M447.6,478.6 L546.6,493.4 L546.8,550.6 L447.8,558.2 Z" fill="#45434a" stroke="#2f2e33" stroke-width="0.6"/><path d="M452.6,483 L544,495.4 L544.2,547.8 L452.6,554.6 Z" fill="url(#tscrbg)"/><g clip-path="url(#tscr)"><path d="M452,483 L462,484.4 V554 L452,555 Z" fill="#0d3247" opacity="0.9"/><g fill="#8fb4c9" opacity="0.65" filter="url(#soft)"><rect x="453.2" y="489" width="5" height="1.3"/><rect x="453.2" y="492.6" width="3.8" height="1.2"/><rect x="453.2" y="495.6" width="4.6" height="1.2"/><rect x="453.2" y="548" width="5.6" height="1.3"/><rect x="453.4" y="551.4" width="2.4" height="1.6"/></g><path d="M461,488.6 L544,498" stroke="#1d4e6b" stroke-width="0.5"/><g fill="#9ebbd0" opacity="0.6" filter="url(#soft)"><rect x="464" y="486.6" width="5" height="1.1"/><rect x="472" y="487.4" width="7" height="1.1"/><rect x="500" y="491" width="8" height="1.1"/><rect x="533" y="495" width="2" height="1.6"/><rect x="538" y="495.6" width="2" height="1.6"/></g><circle cx="486.2" cy="497.6" r="5.3" fill="none" stroke="#2f9d57" stroke-width="1.2"/><circle cx="486.2" cy="497.6" r="3" fill="none" stroke="#2a6a5e" stroke-width="0.5"/><g fill="#b7cfdc" opacity="0.7" filter="url(#soft)"><rect x="468" y="495.6" width="4.4" height="3.8"/><rect x="498" y="498.4" width="4" height="3.6"/><rect x="484.6" y="496.6" width="3.2" height="1.8"/></g><rect x="507.6" y="495.2" width="5" height="13.6" fill="url(#tgreen)"/><rect x="521.2" y="496.4" width="5" height="6.2" fill="#8fd2e2"/><rect x="537.6" y="505" width="4" height="5.8" fill="#2d6f86" opacity="0.8"/><path d="M463,523 H543" stroke="#2b5470" stroke-width="0.4"/><path d="M478.80,521.40 L478.80,509.36 L479.35,509.26 L479.90,509.00 L480.45,509.80 L481.00,508.86 L481.55,509.40 L482.10,509.84 L482.65,508.94 L483.20,509.46 L483.75,509.53 L484.30,508.89 L484.85,509.27 L485.40,509.62 L485.95,509.35 L486.50,509.65 L487.05,509.02 L487.60,509.11 L488.15,508.97 L488.70,509.41 L489.25,509.87 L489.80,509.50 L490.35,509.70 L490.90,509.27 L491.45,509.67 L492.00,508.96 L492.55,509.17 L493.10,509.59 L493.65,509.65 L494.20,509.31 L494.75,508.95 L495.30,509.14 L495.85,509.08 L496.40,515.16 L496.95,515.74 L497.50,515.07 L498.05,515.83 L498.60,515.82 L499.15,514.91 L499.70,515.27 L500.25,515.39 L500.80,514.88 L501.20,521.40 Z" fill="url(#tgreen)"/><rect x="465" y="525" width="8" height="2" fill="#d9545a"/><rect x="473" y="525" width="4.6" height="2" fill="#e8d22e"/><rect x="477.6" y="525" width="23.8" height="2" fill="#3dd04a"/><path d="M463,530 H543 M521.3,530 V542" stroke="#1b4560" stroke-width="0.4"/><g filter="url(#soft)"><rect x="510.5" y="530.6" width="10" height="1.1" fill="#a9c6d8" opacity="0.65"/><rect x="521.6" y="530.4" width="5.4" height="1.3" fill="#d9545a"/><rect x="512" y="532.6" width="8.6" height="1" fill="#a9c6d8" opacity="0.5"/><rect x="521.6" y="532.5" width="2.4" height="1.1" fill="#d9545a"/><rect x="485" y="529.6" width="0.8" height="2" fill="#a9c6d8" opacity="0.7"/><circle cx="510" cy="546.6" r="0.9" fill="none" stroke="#7fa5ba" stroke-width="0.35"/></g><path d="M461,541.4 L544,537.4" stroke="#18445f" stroke-width="0.4" opacity="0.8"/></g><path d="M515.20,501.20 L523.20,501.20 L523.20,520.00 L527.90,520.00 L519.20,528.60 L510.50,520.00 L515.20,520.00 Z" fill="#e3000f" stroke="#3059b4" stroke-width="1.2" stroke-linejoin="miter"/><path d="M505,571 L547.5,568.6 L550,574.8 L507.5,579.6 Z" fill="#8598a4"/><path d="M507,572.4 L546.8,570.2 M507.6,574.4 L547.8,572 M508.4,576.4 L548.8,573.8 M509,578.2 L549.4,575.4" stroke="#b4c2cc" stroke-width="0.8" stroke-dasharray="1.3 0.9" opacity="0.7"/><path d="M559.5,564.6 L580,565.4 L587,576 L564,577.4 Z" fill="#eef2f5"/><path d="M560.5,566.4 L581,567.2 M561.5,568.6 L582.4,569.4 M562.4,570.8 L584,571.6 M563.2,573 L585.4,573.8" stroke="#b9c6cf" stroke-width="0.5"/><path d="M559.5,564.6 L564,577.4" stroke="#9aa9b4" stroke-width="0.9" stroke-dasharray="0.6 0.6"/><path d="M559.6,538.6 Q559.6,536 562.4,536 H567.4 Q570.2,536 570.2,538.6 V556 H559.6 Z" fill="#3c4147"/><path d="M555.6,553.6 H573.4 L574.4,562 Q565,565 554.6,562 Z" fill="#24282d"/><rect x="561.6" y="541" width="6.6" height="5" fill="#565d65"/><circle cx="562" cy="548.6" r="0.7" fill="#3fd06f"/><circle cx="566.2" cy="548.4" r="0.7" fill="#e05a4a"/><ellipse cx="552.6" cy="575.6" rx="12.6" ry="4.6" fill="#14171a"/><ellipse cx="550" cy="574.4" rx="6" ry="1.6" fill="#3a3f45" opacity="0.8"/><rect x="601" y="478" width="18" height="42" fill="#86a3b6"/><path d="M575.96,496.32 L582.63,504.21 L588.77,504.74 L582.63,508.95 L573.86,514.91 L572.11,505.09 Z" fill="#4f7465"/><path d="M574.74,514.74 Q566.84,520.88 565.09,530.53 Q565.96,541.93 572.11,549.82 Q577.37,559.47 581.23,568.60 Q584.39,575.26 586.49,582.28 L619.47,582.28 L619.47,510.70 Q612.46,507.19 605.44,506.49 L588.77,504.74 Q580.88,508.95 574.74,514.74 Z" fill="url(#tbody)"/><path d="M572.11,549.82 Q587.89,547.19 605.44,561.23 Q600.18,571.75 587.89,575.26 Q582.63,571.75 581.23,568.60 Q577.37,559.47 572.11,549.82 Z" fill="#6fc8ef"/><path d="M619.47,561.23 Q607.19,565.61 588.77,582.28 L607.19,582.28 Q614.21,573.51 619.47,570.88 Z" fill="#3f9fd8" opacity="0.9"/><path d="M565.79,535.26 Q582.63,539.30 601.93,554.21 Q610.70,560.35 619.47,562.11" fill="none" stroke="#2f8fcb" stroke-width="2.6" opacity="0.85" filter="url(#soft2)"/><path d="M569.47,520.88 Q582.63,517.37 596.67,527.89 Q582.63,527.89 566.14,531.40 Q566.49,524.39 569.47,520.88 Z" fill="#93d6f3" opacity="0.8" filter="url(#soft2)"/><ellipse cx="595.26" cy="520.00" rx="10" ry="7.4" fill="url(#tshoulder)"/><path d="M600.18,508.95 Q612.46,510.70 619.47,519.12 L619.47,545.44 Q612.46,524.39 600.18,515.96 Z" fill="#d3ecf7" opacity="0.8" filter="url(#soft2)"/><path d="M582.28,508.60 Q587.89,504.39 605.79,506.84" fill="none" stroke="#6e4630" stroke-width="1.4"/><path d="M553.33,485.44 L573.86,481.93 L577.37,491.05 L581.23,505.09 L574.21,514.21 L567.89,517.02 L563.33,516.14 L561.05,512.46 L559.82,507.89 L556.32,504.56 L555.09,501.58 L556.84,496.67 L554.56,491.05 Z" fill="url(#tface)"/><path d="M561.05,512.46 L563.33,516.14 L567.89,517.02 L574.21,514.21 L578.25,508.95 L570.35,512.98 L563.33,511.23 Z" fill="#80583a" opacity="0.9"/><path d="M556.32,490.70 L561.23,491.40" stroke="#2a3a36" stroke-width="0.9"/><path d="M550.18,478.77 L601.93,478.77 L602.28,503.16 L595.26,504.56 L589.12,502.28 L582.98,506.84 L578.42,505.79 L577.72,498.07 L577.02,491.05 L575.96,483.68 L572.46,481.93 L570.88,487.54 L570.18,494.04 L567.02,494.91 L565.26,489.30 L562.63,492.11 L561.23,486.84 L556.67,487.37 L552.81,486.32 L550.53,483.33 Z" fill="#1c2628"/><path d="M582.63,480.53 L600.18,480.18 L600.88,499.82 L591.40,496.32 L586.14,489.30 Z" fill="#2b3737" opacity="0.75"/><ellipse cx="573.86" cy="488.60" rx="2.6" ry="6.2" fill="#88aa98"/><ellipse cx="574.21" cy="488.95" rx="1.1" ry="3.6" fill="#5f8373"/></g>

<!-- grr -->
<ellipse cx="658.0" cy="342.0" rx="74.4" ry="71.2" fill="#ffffff" stroke="#2E87E0" stroke-width="4.1"/>
<text x="658.8" y="312.3" text-anchor="middle" font-size="19.2" fill="#12288F">GR&amp;R</text>
<text transform="translate(656.8,327.0) scale(0.93,1)" text-anchor="middle" font-size="7.6" fill="#12288F">(Gage Repeatability and</text>
<text transform="translate(656.6,336.4) scale(0.93,1)" text-anchor="middle" font-size="7.6" fill="#12288F">Reproducibility Study)</text>
<g fill="#2B3A8C" opacity="0.6" filter="url(#soft)"><rect x="611.65" y="347.8" width="4.58" height="0.9"/><rect x="611.65" y="349.6" width="4.58" height="0.8"/><rect x="611.65" y="351.3" width="4.58" height="0.9"/><rect x="612.37" y="347.8" width="0.9" height="4.4"/><rect x="614.03" y="347.8" width="0.9" height="4.4"/><rect x="617.23" y="347.8" width="4.58" height="0.9"/><rect x="617.23" y="349.6" width="4.58" height="0.8"/><rect x="617.23" y="351.3" width="4.58" height="0.9"/><rect x="618.38" y="347.8" width="0.9" height="4.4"/><rect x="619.52" y="347.8" width="0.9" height="4.4"/><rect x="624.16" y="347.6" width="1.0" height="4.9"/><rect x="628.39" y="347.8" width="4.58" height="0.9"/><rect x="628.39" y="349.6" width="4.58" height="0.8"/><rect x="628.39" y="351.3" width="4.58" height="0.9"/><rect x="629.39" y="347.8" width="0.9" height="4.4"/><rect x="631.03" y="347.8" width="0.9" height="4.4"/><rect x="633.97" y="347.8" width="4.58" height="0.9"/><rect x="633.97" y="349.6" width="4.58" height="0.8"/><rect x="633.97" y="351.3" width="4.58" height="0.9"/><rect x="634.35" y="347.8" width="0.9" height="4.4"/><rect x="636.78" y="347.8" width="0.9" height="4.4"/><rect x="639.55" y="347.8" width="4.58" height="0.9"/><rect x="639.55" y="349.6" width="4.58" height="0.8"/><rect x="639.55" y="351.3" width="4.58" height="0.9"/><rect x="639.90" y="347.8" width="0.9" height="4.4"/><rect x="642.27" y="347.8" width="0.9" height="4.4"/><rect x="645.13" y="347.8" width="4.58" height="0.9"/><rect x="645.13" y="349.6" width="4.58" height="0.8"/><rect x="645.13" y="351.3" width="4.58" height="0.9"/><rect x="645.52" y="347.8" width="0.9" height="4.4"/><rect x="647.44" y="347.8" width="0.9" height="4.4"/><rect x="652.06" y="347.6" width="1.0" height="4.9"/><rect x="656.29" y="347.8" width="4.58" height="0.9"/><rect x="656.29" y="349.6" width="4.58" height="0.8"/><rect x="656.29" y="351.3" width="4.58" height="0.9"/><rect x="657.14" y="347.8" width="0.9" height="4.4"/><rect x="659.48" y="347.8" width="0.9" height="4.4"/><rect x="661.87" y="347.8" width="4.58" height="0.9"/><rect x="661.87" y="349.6" width="4.58" height="0.8"/><rect x="661.87" y="351.3" width="4.58" height="0.9"/><rect x="662.33" y="347.8" width="0.9" height="4.4"/><rect x="664.34" y="347.8" width="0.9" height="4.4"/><rect x="667.45" y="347.8" width="4.58" height="0.9"/><rect x="667.45" y="349.6" width="4.58" height="0.8"/><rect x="667.45" y="351.3" width="4.58" height="0.9"/><rect x="668.57" y="347.8" width="0.9" height="4.4"/><rect x="670.79" y="347.8" width="0.9" height="4.4"/><rect x="673.03" y="347.8" width="4.58" height="0.9"/><rect x="673.03" y="349.6" width="4.58" height="0.8"/><rect x="673.03" y="351.3" width="4.58" height="0.9"/><rect x="674.08" y="347.8" width="0.9" height="4.4"/><rect x="675.71" y="347.8" width="0.9" height="4.4"/><rect x="678.61" y="347.8" width="4.58" height="0.9"/><rect x="678.61" y="349.6" width="4.58" height="0.8"/><rect x="678.61" y="351.3" width="4.58" height="0.9"/><rect x="680.18" y="347.8" width="0.9" height="4.4"/><rect x="680.87" y="347.8" width="0.9" height="4.4"/><rect x="684.19" y="347.8" width="4.58" height="0.9"/><rect x="684.19" y="349.6" width="4.58" height="0.8"/><rect x="684.19" y="351.3" width="4.58" height="0.9"/><rect x="685.61" y="347.8" width="0.9" height="4.4"/><rect x="686.74" y="347.8" width="0.9" height="4.4"/><rect x="689.77" y="347.8" width="4.58" height="0.9"/><rect x="689.77" y="349.6" width="4.58" height="0.8"/><rect x="689.77" y="351.3" width="4.58" height="0.9"/><rect x="690.26" y="347.8" width="0.9" height="4.4"/><rect x="692.11" y="347.8" width="0.9" height="4.4"/><rect x="695.35" y="347.8" width="4.58" height="0.9"/><rect x="695.35" y="349.6" width="4.58" height="0.8"/><rect x="695.35" y="351.3" width="4.58" height="0.9"/><rect x="696.05" y="347.8" width="0.9" height="4.4"/><rect x="698.53" y="347.8" width="0.9" height="4.4"/><rect x="700.93" y="347.8" width="4.58" height="0.9"/><rect x="700.93" y="349.6" width="4.58" height="0.8"/><rect x="700.93" y="351.3" width="4.58" height="0.9"/><rect x="701.46" y="347.8" width="0.9" height="4.4"/><rect x="703.83" y="347.8" width="0.9" height="4.4"/></g>
<path fill="#1a1718" d="M631.2,362.3 H647.4 V367.2 H642.4 V366 H634 Q633.2,366 633.2,366.8 V373.2 Q633.2,374 634,374 H642.4 V372.8 H647.4 V377.7 H631.2 Q627.9,377.7 627.9,374.6 V365.4 Q627.9,362.3 631.2,362.3 Z"/>
<path fill="#1a1718" fill-rule="evenodd" d="M650,362.3 H666.6 Q670,362.3 670,365.4 V369.4 Q670,372.4 666.6,372.4 H655.6 V377.7 H650 Z M655.6,365.8 V368.9 H663.6 Q664.5,368.9 664.5,368.1 V366.6 Q664.5,365.8 663.6,365.8 Z"/>
<path fill="#1a1718" d="M672,362.3 H677.6 V368.0 L684.4,362.3 H691.4 L682.6,369.5 L691.9,377.7 H684.6 L678.9,372.5 L677.6,373.5 V377.7 H672 Z"/>

<text class="lbl" font-size="20.6" transform="translate(6.9,181.0) scale(1.0968,1)">Field equipment</text>
<text class="lbl" font-size="20.4" transform="translate(672.88,173.5) scale(1.1244,1)">Real-time</text>
<text class="lbl" font-size="20.4" transform="translate(666.92,199.5) scale(1.0788,1)">analysis of</text>
<text class="lbl" font-size="20.4" transform="translate(663.89,225.0) scale(1.114,1)">online data</text>
<text class="lbl" font-size="19.6" transform="translate(607.31,438.5) scale(1.0939,1)">GRR&amp;CPK</text>
<text class="lbl" font-size="20.6" transform="translate(20.6,414.4) scale(1.0866,1)">Terminal Kanban</text>
<text class="lbl" font-size="20.6" transform="translate(19.91,439.2) scale(1.0892,1)">(capacity recovery)</text>
<text class="lbl" font-size="22.8" transform="translate(198.97,645.2) scale(1.1172,1)">Equipment</text>
<text class="lbl" font-size="22.8" transform="translate(199.47,674.0) scale(1.1153,1)">maintenance</text>
<text class="lbl" font-size="20.6" transform="translate(438.6,641.5) scale(1.1112,1)">Terminal monitoring</text>
<text class="lbl" font-size="20.6" transform="translate(437.82,666.4) scale(1.0778,1)">(capacity decline)</text>
</svg>
</body></html>
